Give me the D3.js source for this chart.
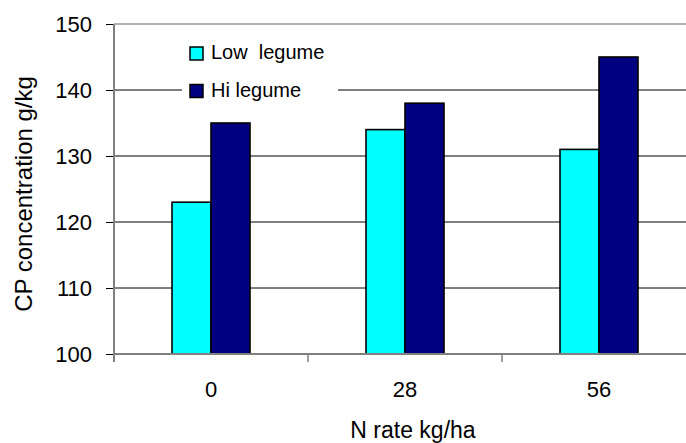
<!DOCTYPE html>
<html>
<head>
<meta charset="utf-8">
<script src="https://cdn.jsdelivr.net/npm/d3@7"></script>
<style>
  body { margin: 0; background: #fff; }
  svg { font-family: "Liberation Sans", Arial, sans-serif; }
</style>
</head>
<body>
<div id="chart"></div>
<script>
// data
var categories = ["0", "28", "56"];
var seriesNames = ["Low  legume", "Hi legume"];
var lowLegume = [123, 134, 131];
var hiLegume = [135, 138, 145];
var yTicks = [100, 110, 120, 130, 140, 150];
var colors = ["#00FFFF", "#000080"];

var width = 686, height = 443;
var plot = {left: 114, right: 696, top: 24, bottom: 354};

var svg = d3.select("#chart").append("svg")
    .attr("width", width)
    .attr("height", height);

var y = d3.scaleLinear().domain([100, 150]).range([plot.bottom, plot.top]);

// groups: bars 78 px wide in a 194 px step
var x0 = d3.scaleBand().domain(categories)
    .range([plot.left, plot.right])
    .paddingInner(0.598).paddingOuter(0.299);
var x1 = d3.scaleBand().domain(seriesNames).range([0, x0.bandwidth()]);
var gap = (x0.step() - x0.bandwidth()) / 2;

// gridlines
svg.append("g").selectAll("line")
    .data(yTicks.filter(function(d){ return d > 100 && d < 150; }))
    .enter().append("line")
    .attr("x1", plot.left).attr("x2", plot.right)
    .attr("y1", function(d){ return y(d); })
    .attr("y2", function(d){ return y(d); })
    .style("stroke", "#000").style("stroke-width", 1);

// top border of the plot
svg.append("line")
    .attr("x1", plot.left).attr("x2", plot.right)
    .attr("y1", y(150)).attr("y2", y(150))
    .style("stroke", "#999").style("stroke-width", 1.5);

// y axis
var yAxis = d3.axisLeft(y).tickValues(yTicks).tickSize(8).tickPadding(14);
var gy = svg.append("g")
    .attr("transform", "translate(" + plot.left + ",0)")
    .call(yAxis);
gy.select(".domain").remove();
gy.selectAll(".tick line").style("stroke", "#000");
gy.selectAll(".tick text").style("font-size", "22px").attr("dy", "0.36em");

// bars
var rows = categories.map(function(c, i){
    return {cat: c, vals: [lowLegume[i], hiLegume[i]]};
});
var groups = svg.append("g").selectAll("g")
    .data(rows).enter().append("g")
    .attr("transform", function(d){ return "translate(" + x0(d.cat) + ",0)"; });
groups.selectAll("rect")
    .data(function(d){ return d.vals.map(function(v, k){ return {v: v, k: k}; }); })
    .enter().append("rect")
    .attr("x", function(d){ return x1(seriesNames[d.k]); })
    .attr("width", x1.bandwidth())
    .attr("y", function(d){ return y(d.v); })
    .attr("height", function(d){ return y(100) - y(d.v); })
    .style("fill", function(d){ return colors[d.k]; })
    .style("stroke", "#000").style("stroke-width", 1.6);

// axis lines (grey)
svg.append("line")
    .attr("x1", plot.left).attr("x2", plot.left)
    .attr("y1", plot.top).attr("y2", plot.bottom + 8)
    .style("stroke", "#808080").style("stroke-width", 2);
svg.append("line")
    .attr("x1", plot.left).attr("x2", plot.right)
    .attr("y1", plot.bottom).attr("y2", plot.bottom)
    .style("stroke", "#808080").style("stroke-width", 2);

// category separators on the x axis
svg.append("g").selectAll("line")
    .data(categories.slice(1))
    .enter().append("line")
    .attr("x1", function(d){ return x0(d) - gap; })
    .attr("x2", function(d){ return x0(d) - gap; })
    .attr("y1", plot.bottom).attr("y2", plot.bottom + 8)
    .style("stroke", "#808080").style("stroke-width", 1.5);

// category labels
svg.append("g").selectAll("text")
    .data(categories).enter().append("text")
    .attr("x", function(d){ return x0(d) + x0.bandwidth() / 2; })
    .attr("y", 397)
    .attr("text-anchor", "middle")
    .style("font-size", "22px")
    .text(function(d){ return d; });

// axis titles
svg.append("text")
    .attr("x", 413).attr("y", 438)
    .attr("text-anchor", "middle")
    .style("font-size", "23px")
    .text("N rate kg/ha");
svg.append("text")
    .attr("transform", "translate(32,194) rotate(-90)")
    .attr("text-anchor", "middle")
    .style("font-size", "24px")
    .text("CP concentration g/kg");

// legend
var legend = svg.append("g");
legend.append("rect")
    .attr("x", 182).attr("y", 34)
    .attr("width", 156).attr("height", 74)
    .style("fill", "#fff");
var items = legend.selectAll("g.item")
    .data(seriesNames).enter().append("g")
    .attr("class", "item")
    .attr("transform", function(d, i){ return "translate(190," + (47 + i * 37.5) + ")"; });
items.append("rect")
    .attr("width", 13).attr("height", 13)
    .style("fill", function(d, i){ return colors[i]; })
    .style("stroke", "#000").style("stroke-width", 1.5);
items.append("text")
    .attr("x", 21).attr("y", 12)
    .style("font-size", "20px")
    .attr("xml:space", "preserve")
    .text(function(d){ return d; });
</script>
</body>
</html>
